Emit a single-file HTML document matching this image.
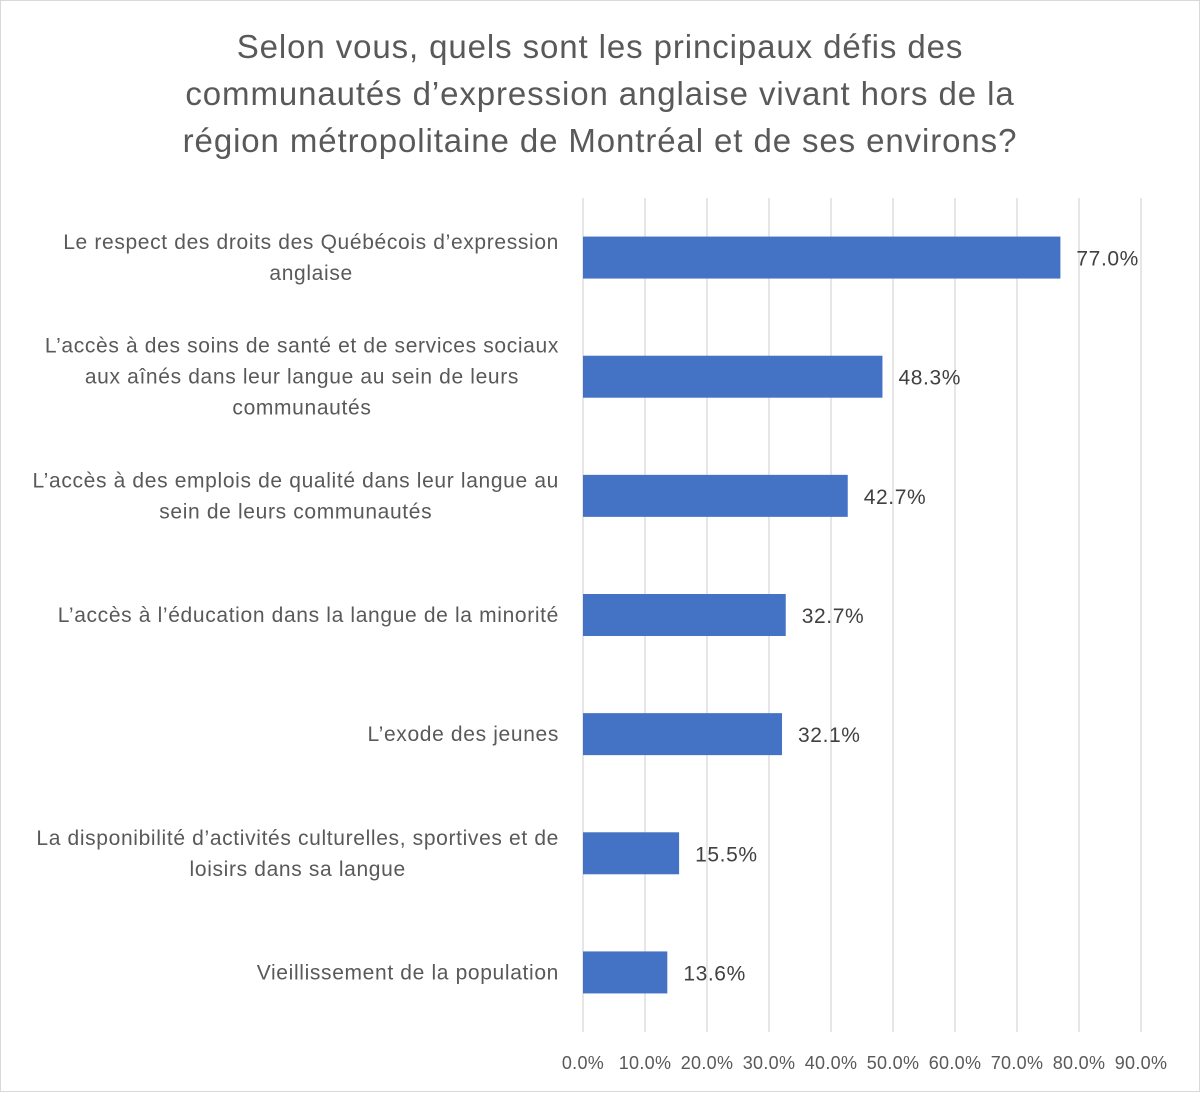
<!DOCTYPE html>
<html><head><meta charset="utf-8">
<style>
html,body{margin:0;padding:0;background:#fff;}
svg{display:block;font-family:"Liberation Sans",sans-serif;}
</style></head>
<body>
<svg id="chart" width="1200" height="1093" viewBox="0 0 1200 1093">
<rect x="0.5" y="0.5" width="1199" height="1091" fill="#fff" stroke="#d9d9d9"/>
<g fill="#595959" font-size="33" letter-spacing="0.9" text-anchor="middle">
<text x="600" y="58">Selon vous, quels sont les principaux défis des</text>
<text x="600" y="105">communautés d’expression anglaise vivant hors de la</text>
<text x="600" y="152">région métropolitaine de Montréal et de ses environs?</text>
</g>
<g id="grid"></g><g id="bars"></g><g id="labels"></g><g id="ticks"></g>
</svg>
<script>
const categories = [
 ["Le respect des droits des Québécois d’expression","anglaise"],
 ["L’accès à des soins de santé et de services sociaux","aux aînés dans leur langue au sein de leurs","communautés"],
 ["L’accès à des emplois de qualité dans leur langue au","sein de leurs communautés"],
 ["L’accès à l’éducation dans la langue de la minorité"],
 ["L’exode des jeunes"],
 ["La disponibilité d’activités culturelles, sportives et de","loisirs dans sa langue"],
 ["Vieillissement de la population"]
];
const values = [77.0, 48.3, 42.7, 32.7, 32.1, 15.5, 13.6];
const tickValues = [0,10,20,30,40,50,60,70,80,90];
const NS="http://www.w3.org/2000/svg";
const x0=583, x1=1141, xMax=90, yTop=198, yBot=1032;
const band=(yBot-yTop)/categories.length, barH=42;
const xs=v=>x0+(v/xMax)*(x1-x0);
const yc=i=>yTop+band*(i+0.5);
function mk(tag,attrs,parent,txt){const e=document.createElementNS(NS,tag);for(const k in attrs)e.setAttribute(k,attrs[k]);if(txt!==undefined)e.textContent=txt;document.getElementById(parent).appendChild(e);return e;}
tickValues.forEach(t=>{
 const l=mk('line',{x1:xs(t),x2:xs(t),y1:yTop,y2:yBot,stroke:'#d9d9d9','stroke-width':1.3},'grid');
 
 
 const tx=mk('text',{x:xs(t),y:1069,'font-size':18,'letter-spacing':0.3,fill:'#595959','text-anchor':'middle'},'ticks',t.toFixed(1)+'%');
 
 
});
const catTexts=[];
values.forEach((v,i)=>{
 const r=mk('rect',{x:x0,y:yc(i)-barH/2,width:xs(v)-x0,height:barH,fill:'#4472c4'},'bars');
 
 
 const dl=mk('text',{x:xs(v)+16,y:yc(i)+8,'font-size':21,'letter-spacing':0.6,fill:'#404040'},'labels',v.toFixed(1)+'%');
 
 
 const lines=categories[i];
 const lh=31, start=yc(i)-(lines.length-1)*lh/2+7;
 const g=[];
 lines.forEach((s,j)=>{
  const c=mk('text',{x:559,y:start+j*lh,'font-size':21,'letter-spacing':0.65,fill:'#595959','text-anchor':lines.length>1?'middle':'end'},'labels',s);
  
  
  g.push(c);
 });
 catTexts.push(g);
});
catTexts.forEach(g=>{
 if(g.length>1){
  const w=Math.max(...g.map(t=>t.getComputedTextLength()));
  g.forEach(t=>t.setAttribute('x',559-w/2));
 }
});
</script>
</body></html>
